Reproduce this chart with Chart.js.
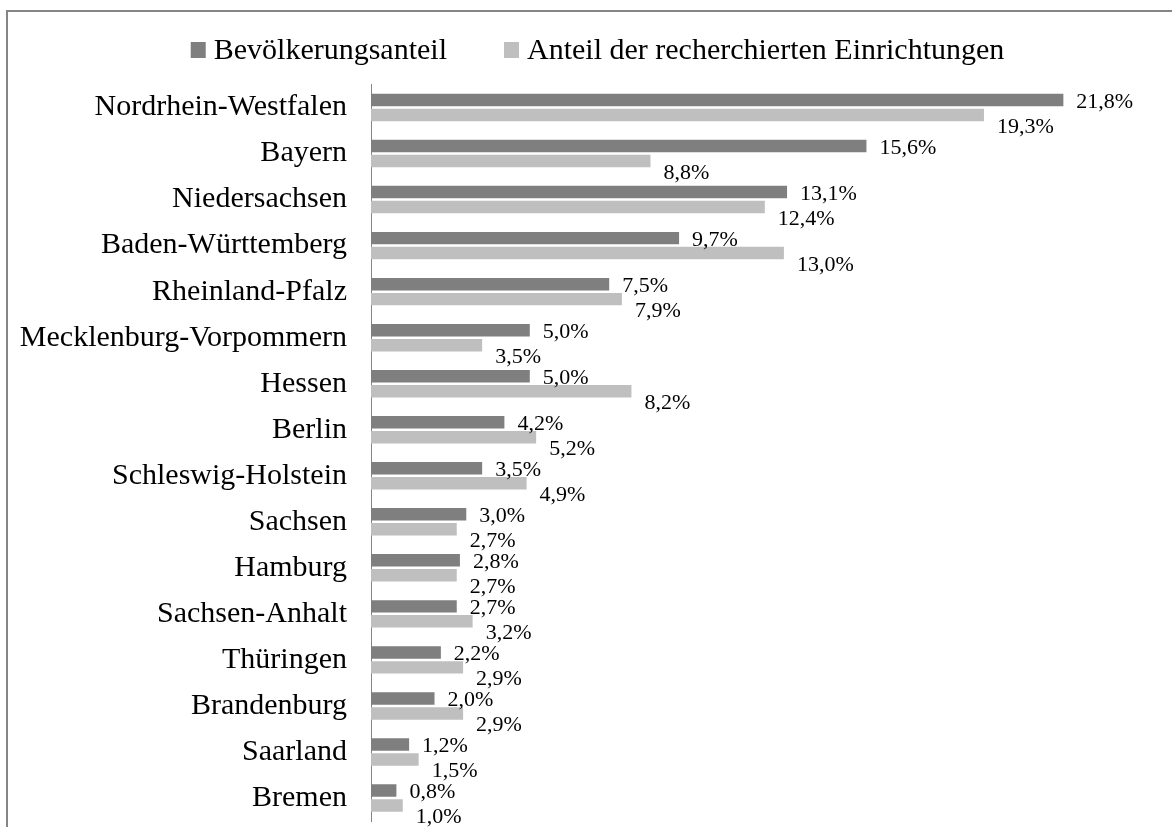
<!DOCTYPE html>
<html><head><meta charset="utf-8">
<script src="https://cdn.jsdelivr.net/npm/chart.js"></script>
<style>
html,body{margin:0;padding:0;background:#fff;overflow:hidden;width:1172px;height:827px;}
#frame{position:absolute;left:6px;top:10px;width:1300px;height:1000px;border:2px solid #858585;box-sizing:border-box;}
#wrap{position:absolute;left:0;top:0;width:1172px;height:863px;}
</style></head><body>
<div id="frame"></div>
<div id="wrap"><canvas id="c"></canvas></div>
<script>
const categories = ['Nordrhein-Westfalen','Bayern','Niedersachsen','Baden-Württemberg','Rheinland-Pfalz','Mecklenburg-Vorpommern','Hessen','Berlin','Schleswig-Holstein','Sachsen','Hamburg','Sachsen-Anhalt','Thüringen','Brandenburg','Saarland','Bremen'];
const populationShare = [21.8,15.6,13.1,9.7,7.5,5.0,5.0,4.2,3.5,3.0,2.8,2.7,2.2,2.0,1.2,0.8];
const facilityShare = [19.3,8.8,12.4,13.0,7.9,3.5,8.2,5.2,4.9,2.7,2.7,3.2,2.9,2.9,1.5,1.0];
const seriesNames = ['Bevölkerungsanteil','Anteil der recherchierten Einrichtungen'];
const seriesColors = ['#7f7f7f','#bfbfbf'];

const FONT = "'Liberation Serif','Times New Roman',serif";

const valueLabels = {
  id:'valueLabels',
  afterDatasetsDraw(chart){
    const ctx = chart.ctx;
    ctx.save();
    ctx.font = '22px ' + FONT;
    ctx.fillStyle = '#000';
    ctx.textAlign = 'left';
    ctx.textBaseline = 'middle';
    chart.data.datasets.forEach((ds, di) => {
      const meta = chart.getDatasetMeta(di);
      meta.data.forEach((bar, i) => {
        const txt = ds.data[i].toFixed(1).replace('.', ',') + '%';
        ctx.fillText(txt, bar.x + 13, bar.y + (di === 0 ? 2 : 12));
      });
    });
    ctx.restore();
  }
};

const topLegend = {
  id:'topLegend',
  afterDraw(chart){
    const ctx = chart.ctx;
    ctx.save();
    ctx.font = '30px ' + FONT;
    ctx.textBaseline = 'middle';
    ctx.textAlign = 'left';
    const box = 15, gap = 8, spacing = 57, cy = 51;
    const items = chart.data.datasets.map(d => ({text:d.label, color:d.backgroundColor, w:ctx.measureText(d.label).width}));
    let total = 0;
    items.forEach((it, i) => { total += box + gap + it.w + (i ? spacing : 0); });
    let x = 597.5 - total / 2;
    items.forEach((it, i) => {
      if (i) x += spacing;
      ctx.fillStyle = it.color;
      ctx.fillRect(x, 42, box, 16);
      x += box + gap;
      ctx.fillStyle = '#000';
      ctx.fillText(it.text, x, cy);
      x += it.w;
    });
    ctx.restore();
  }
};

new Chart(document.getElementById('c'), {
  type:'bar',
  data:{
    labels:categories,
    datasets:[
      {label:seriesNames[0], data:populationShare, backgroundColor:seriesColors[0]},
      {label:seriesNames[1], data:facilityShare, backgroundColor:seriesColors[1]}
    ]
  },
  options:{
    indexAxis:'y',
    responsive:true,
    maintainAspectRatio:false,
    animation:false,
    categoryPercentage:0.651,
    barPercentage:0.833,
    layout:{padding:{left:15,right:7,top:84.5,bottom:0}},
    plugins:{legend:{display:false},tooltip:{enabled:false}},
    scales:{
      x:{display:false,min:0,max:25},
      y:{
        afterFit(s){ s.width = 356; },
        grid:{display:false,drawTicks:false},
        border:{display:true,color:'#868686',width:1},
        ticks:{font:{family:FONT,size:30},color:'#000',padding:24}
      }
    }
  },
  plugins:[valueLabels, topLegend]
});
</script>
</body></html>
